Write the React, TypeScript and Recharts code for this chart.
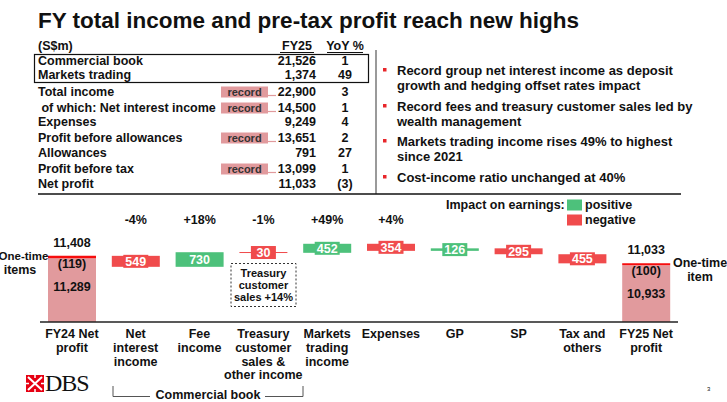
import React from 'react';
import { BarChart, Bar, XAxis, YAxis, Cell, LabelList } from 'recharts';

const FONT = '"Liberation Sans", Arial, sans-serif';
const RED = '#F04B4C';
const GREEN = '#4DC17B';
const PINK = '#E19A9D';
const STRIP = '#F60D0D';
const INK = '#111';

// waterfall
const categories = [
  'FY24 Net profit', 'Net interest income', 'Fee income', 'Treasury customer sales & other income',
  'Markets trading income', 'Expenses', 'GP', 'SP', 'Tax and others', 'FY25 Net profit',
];
const categoryLines = [
  ['FY24 Net', 'profit'], ['Net', 'interest', 'income'], ['Fee', 'income'],
  ['Treasury', 'customer', 'sales &', 'other income'], ['Markets', 'trading', 'income'],
  ['Expenses'], ['GP'], ['SP'], ['Tax and', 'others'], ['FY25 Net', 'profit'],
];
const impactOnEarnings = [null, -549, 730, -30, 452, -354, 126, -295, -455, null];
const yoyChange = ['', '-4%', '+18%', '-1%', '+49%', '+4%', '', '', '', ''];
const reportedNetProfit = [11408, 11033];
const oneTimeItems = [-119, -100];
const underlyingNetProfit = [11289, 10933];

// table
const tableLabels = [
  'Commercial book', 'Markets trading', 'Total income', ' of which: Net interest income', 'Expenses',
  'Profit before allowances', 'Allowances', 'Profit before tax', 'Net profit',
];
const fy25Values = ['21,526', '1,374', '22,900', '14,500', '9,249', '13,651', '791', '13,099', '11,033'];
const yoyPct = ['1', '49', '3', '1', '4', '2', '27', '1', '(3)'];
const recordRows = [false, false, true, true, false, true, false, true, false];
const rowY = [61, 75, 92, 108, 122, 138, 153, 169, 184];

const bullets = [
  ['Record group net interest income as deposit', 'growth and hedging offset rates impact'],
  ['Record fees and treasury customer sales led by', 'wealth management'],
  ['Markets trading income rises 49% to highest', 'since 2021'],
  ['Cost-income ratio unchanged at 40%'],
];

const AXIS_FLOOR = 8100;
const AXIS_CEIL = 14700;

let running = reportedNetProfit[0];
const data = categories.map((name, i) => {
  if (i === 0 || i === categories.length - 1) {
    const k = i === 0 ? 0 : 1;
    return {
      name, kind: 'total', k,
      body: [AXIS_FLOOR, underlyingNetProfit[k]],
      strip: [underlyingNetProfit[k], reportedNetProfit[k]],
    };
  }
  const d = impactOnEarnings[i] as number;
  const next = running + d;
  const row = { name, kind: d >= 0 ? 'pos' : 'neg', delta: d, body: [Math.min(running, next), Math.max(running, next)], strip: undefined };
  running = next;
  return row;
});

const fmt = (v: number) => v.toLocaleString('en-US');

const CategoryTick = (props: any) => {
  const { x, payload } = props;
  const lines = categoryLines[categories.indexOf(payload.value)] || [];
  return (
    <g>
      {lines.map((l, i) => (
        <text key={i} x={x} y={334 + i * 13.8} textAnchor="middle" dominantBaseline="central"
          fontFamily={FONT} fontWeight={700} fontSize={12.5} fill={INK}>{l}</text>
      ))}
    </g>
  );
};

const BodyShape = (props: any) => {
  const { x, y, width, height, fill } = props;
  const h = Math.max(height, 1);
  return <rect x={x} y={y + height / 2 - h / 2} width={width} height={h} fill={fill} />;
};

const BodyLabel = (props: any) => {
  const { x, y, width, height, index } = props;
  const row: any = data[index];
  const cx = x + width / 2;
  const pct = yoyChange[index];
  return (
    <g>
      {pct && (
        <text x={cx} y={220} textAnchor="middle" dominantBaseline="central" fontFamily={FONT}
          fontWeight={700} fontSize={12.5} fill={INK}>{pct}</text>
      )}
      {row.kind !== 'total' && (
        <g>
          <rect x={cx - 12.5} y={y + height / 2 - 6.5} width={25} height={13}
            fill={row.kind === 'pos' ? GREEN : RED} />
          <text x={cx} y={y + height / 2 + 0.5} textAnchor="middle" dominantBaseline="central"
            fontFamily={FONT} fontWeight={700} fontSize={12.5} fill="#fff">{fmt(Math.abs(row.delta))}</text>
        </g>
      )}
    </g>
  );
};

const StripLabel = (props: any) => {
  const { x, y, width, value } = props;
  if (!Array.isArray(value)) return null;
  const k = reportedNetProfit.indexOf(value[1]);
  if (k < 0) return null;
  const cx = x + width / 2;
  const t = { textAnchor: 'middle' as const, dominantBaseline: 'central' as const, fontFamily: FONT, fontWeight: 700, fontSize: 12.5, fill: INK };
  return (
    <g>
      <text x={cx} y={y - 13} {...t}>{fmt(reportedNetProfit[k])}</text>
      <text x={cx} y={y + 8} {...t}>({fmt(Math.abs(oneTimeItems[k]))})</text>
      <text x={cx} y={y + 31} {...t}>{fmt(underlyingNetProfit[k])}</text>
    </g>
  );
};

const Overlay = () => {
  const b = { fontFamily: FONT, fontWeight: 700, fill: INK };
  return (
    <svg width={727} height={402} style={{ position: 'absolute', left: 0, top: 0, pointerEvents: 'none' }}>
      <text x={38} y={28} {...b} fontSize={22.5}>FY total income and pre-tax profit reach new highs</text>

      {/* table */}
      <text x={38} y={46} {...b} fontSize={12.5} dominantBaseline="central">(S$m)</text>
      <text x={297} y={46} {...b} fontSize={12.5} textAnchor="middle" dominantBaseline="central">FY25</text>
      <line x1={280} x2={314} y1={52.5} y2={52.5} stroke={INK} strokeWidth={1} />
      <text x={345} y={46} {...b} fontSize={12.5} textAnchor="middle" dominantBaseline="central">YoY %</text>
      <line x1={327} x2={363} y1={52.5} y2={52.5} stroke={INK} strokeWidth={1} />
      <rect x={34.5} y={54.5} width={334} height={28} fill="none" stroke={INK} strokeWidth={1.2} />
      {tableLabels.map((l, i) => (
        <g key={i}>
          {recordRows[i] && (
            <g>
              <rect x={221} y={rowY[i] - 5.5} width={47} height={11} fill={PINK} />
              <line x1={268} x2={276} y1={rowY[i] + 3.5} y2={rowY[i] + 3.5} stroke={PINK} strokeWidth={1.2} />
              <text x={244.5} y={rowY[i]} {...b} fill="#333" fontSize={11} textAnchor="middle" dominantBaseline="central">record</text>
            </g>
          )}
          <text x={38} y={rowY[i]} {...b} fontSize={12.5} dominantBaseline="central" style={{ whiteSpace: 'pre' }}>{l}</text>
          <text x={316} y={rowY[i]} {...b} fontSize={12.5} textAnchor="end" dominantBaseline="central">{fy25Values[i]}</text>
          <text x={345} y={rowY[i]} {...b} fontSize={12.5} textAnchor="middle" dominantBaseline="central">{yoyPct[i]}</text>
        </g>
      ))}
      <line x1={376} x2={376} y1={50} y2={194} stroke="#9a9a9a" strokeWidth={2} />
      <line x1={38} x2={681} y1={194} y2={194} stroke={INK} strokeWidth={1.4} />

      {/* bullets */}
      {bullets.map((lines, i) => {
        const top = [70, 106, 141, 177][i];
        return (
          <g key={i}>
            <rect x={383} y={top - 2} width={3.5} height={3.5} fill="#E8262A" />
            {lines.map((l, j) => (
              <text key={j} x={397} y={top + j * 15} {...b} fontSize={13} dominantBaseline="central">{l}</text>
            ))}
          </g>
        );
      })}

      {/* legend */}
      <text x={446} y={205} {...b} fontSize={12.5} dominantBaseline="central">Impact on earnings:</text>
      <rect x={567} y={199.5} width={15} height={11} fill={GREEN} />
      <text x={585} y={205} {...b} fontSize={12.5} dominantBaseline="central">positive</text>
      <rect x={567} y={214.5} width={15} height={11} fill={RED} />
      <text x={585} y={220} {...b} fontSize={12.5} dominantBaseline="central">negative</text>

      {/* one-time notes */}
      <text x={23.5} y={256} {...b} fontSize={11.5} textAnchor="middle" dominantBaseline="central">One-time</text>
      <text x={20} y={270} {...b} fontSize={12.5} textAnchor="middle" dominantBaseline="central">items</text>
      <text x={700} y={263} {...b} fontSize={12.5} textAnchor="middle" dominantBaseline="central">One-time</text>
      <text x={700} y={277} {...b} fontSize={12.5} textAnchor="middle" dominantBaseline="central">item</text>

      {/* treasury note */}
      <rect x={231} y={263.5} width={65} height={43} fill="none" stroke="#333" strokeWidth={1} strokeDasharray="2 2" />
      {['Treasury', 'customer', 'sales +14%'].map((l, i) => (
        <text key={l} x={263.5} y={273 + i * 12} {...b} fontSize={11} textAnchor="middle" dominantBaseline="central">{l}</text>
      ))}

      {/* commercial book bracket */}
      <path d="M113,386 V396.5 H150 M265,396.5 H303 V386" fill="none" stroke="#555" strokeWidth={1} />
      <text x={208} y={394.5} {...b} fontSize={12.5} textAnchor="middle" dominantBaseline="central">Commercial book</text>

      {/* logo */}
      <g>
        <rect x={26} y={375} width={18} height={17} fill="#E60012" />
        <path d="M28,377 L42,390 M42,377 L28,390" stroke="#fff" strokeWidth={2} />
        <path d="M35,375 V378 M35,389 V392 M26,383.5 H29 M41,383.5 H44" stroke="#fff" strokeWidth={1.5} />
      </g>
      <text x={45} y={391} fontFamily='"Liberation Serif", "DejaVu Serif", serif' fontSize={24} fill={INK} letterSpacing={-1}>DBS</text>
      <text x={707} y={391} fontFamily={FONT} fontSize={6} fill={INK}>3</text>
    </svg>
  );
};

export default function App() {
  return (
    <div style={{ position: 'absolute', left: 0, top: 0, width: 727, height: 402, background: '#fff', overflow: 'hidden' }}>
      <BarChart width={727} height={402} data={data} barSize={48}
        margin={{ top: 190, right: 49, left: 40, bottom: 0 }}>
        <XAxis dataKey="name" height={80} tick={<CategoryTick />} tickLine={false} interval={0}
          axisLine={{ stroke: '#222', strokeWidth: 1.3 }} />
        <XAxis dataKey="name" xAxisId="strip" hide />
        <YAxis hide width={0} domain={[AXIS_FLOOR, AXIS_CEIL]} allowDataOverflow />
        <Bar dataKey="body" isAnimationActive={false} shape={<BodyShape />}>
          {data.map((d, i) => (
            <Cell key={i} fill={d.kind === 'total' ? PINK : d.kind === 'pos' ? GREEN : RED} />
          ))}
          <LabelList dataKey="body" content={<BodyLabel />} />
        </Bar>
        <Bar dataKey="strip" xAxisId="strip" fill={STRIP} isAnimationActive={false}>
          <LabelList dataKey="strip" content={<StripLabel />} />
        </Bar>
      </BarChart>
      <Overlay />
    </div>
  );
}
